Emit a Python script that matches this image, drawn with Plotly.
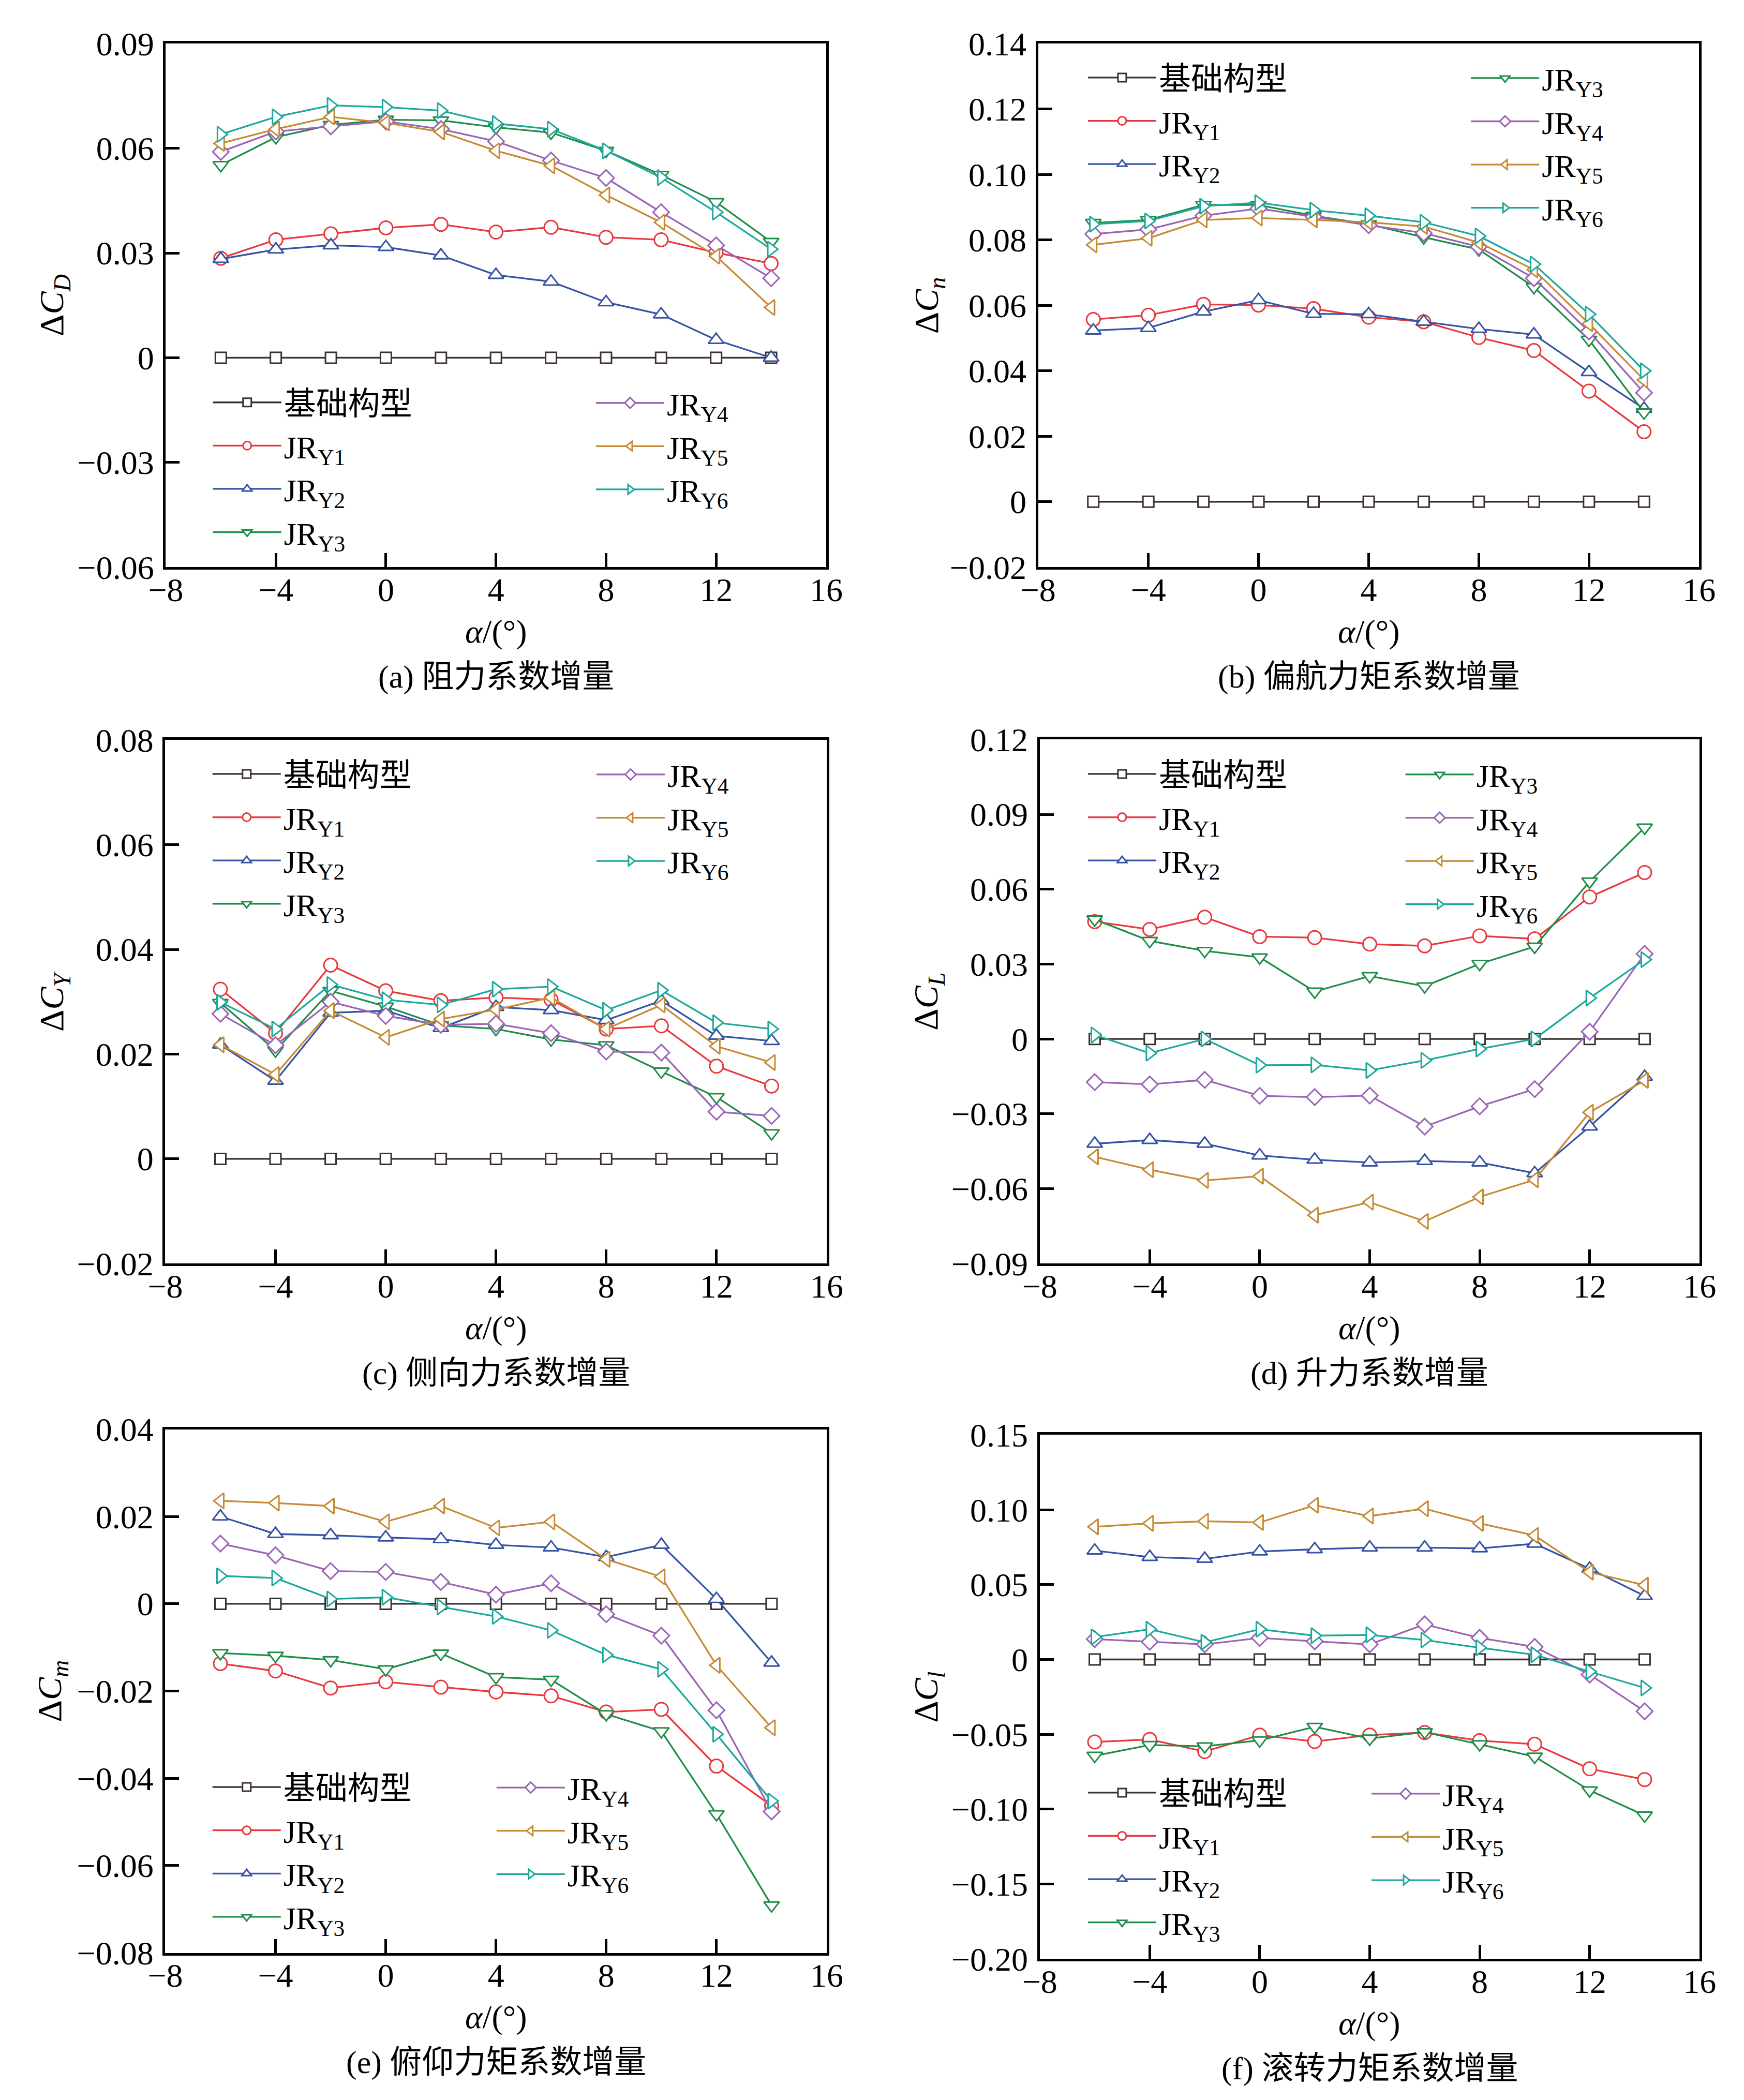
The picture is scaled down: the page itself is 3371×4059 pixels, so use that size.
import plotly.graph_objects as go

# %% data (alpha in degrees)
alpha = [-6, -4, -2, 0, 2, 4, 6, 8, 10, 12, 14]
base_zero = [0, 0, 0, 0, 0, 0, 0, 0, 0, 0, 0]

series_names = ["基础构型", "JR<sub>Y1</sub>", "JR<sub>Y2</sub>", "JR<sub>Y3</sub>",
                "JR<sub>Y4</sub>", "JR<sub>Y5</sub>", "JR<sub>Y6</sub>"]

# (a) drag coefficient increment
cd_y1 = [0.0285, 0.0338, 0.0355, 0.0372, 0.0382, 0.0360, 0.0374, 0.0345, 0.0338, 0.0301, 0.0270]
cd_y2 = [0.0283, 0.0310, 0.0322, 0.0317, 0.0293, 0.0237, 0.0218, 0.0159, 0.0124, 0.0051, 0.0000]
cd_y3 = [0.0552, 0.0632, 0.0667, 0.0682, 0.0680, 0.0660, 0.0645, 0.0593, 0.0524, 0.0446, 0.0332]
cd_y4 = [0.0590, 0.0648, 0.0663, 0.0677, 0.0655, 0.0620, 0.0565, 0.0515, 0.0417, 0.0322, 0.0228]
cd_y5 = [0.0614, 0.0655, 0.0690, 0.0673, 0.0647, 0.0593, 0.0550, 0.0466, 0.0388, 0.0291, 0.0144]
cd_y6 = [0.0640, 0.0690, 0.0723, 0.0718, 0.0708, 0.0671, 0.0655, 0.0593, 0.0516, 0.0417, 0.0311]

# (b) yawing moment coefficient increment
cn_y1 = [0.0557, 0.0570, 0.0603, 0.0601, 0.0590, 0.0564, 0.0550, 0.0502, 0.0462, 0.0338, 0.0214]
cn_y2 = [0.0523, 0.0531, 0.0581, 0.0616, 0.0574, 0.0573, 0.0550, 0.0528, 0.0511, 0.0396, 0.0284]
cn_y3 = [0.0852, 0.0861, 0.0907, 0.0907, 0.0874, 0.0848, 0.0808, 0.0771, 0.0656, 0.0495, 0.0273]
cn_y4 = [0.0818, 0.0832, 0.0874, 0.0896, 0.0871, 0.0845, 0.0821, 0.0779, 0.0683, 0.0520, 0.0333]
cn_y5 = [0.0785, 0.0805, 0.0861, 0.0867, 0.0861, 0.0854, 0.0841, 0.0792, 0.0709, 0.0544, 0.0372]
cn_y6 = [0.0848, 0.0858, 0.0903, 0.0914, 0.0891, 0.0874, 0.0854, 0.0812, 0.0726, 0.0573, 0.0400]

# (c) side force coefficient increment
cy_y1 = [0.0324, 0.0240, 0.0370, 0.0321, 0.0302, 0.0308, 0.0304, 0.0248, 0.0254, 0.0177, 0.0139]
cy_y2 = [0.0218, 0.0149, 0.0279, 0.0283, 0.0250, 0.0290, 0.0284, 0.0265, 0.0302, 0.0235, 0.0225]
cy_y3 = [0.0298, 0.0207, 0.0321, 0.0291, 0.0255, 0.0248, 0.0228, 0.0217, 0.0167, 0.0118, 0.0049]
cy_y4 = [0.0277, 0.0217, 0.0300, 0.0273, 0.0256, 0.0258, 0.0240, 0.0205, 0.0203, 0.0090, 0.0082]
cy_y5 = [0.0218, 0.0161, 0.0283, 0.0232, 0.0267, 0.0285, 0.0308, 0.0248, 0.0294, 0.0215, 0.0184]
cy_y6 = [0.0299, 0.0248, 0.0333, 0.0304, 0.0294, 0.0324, 0.0329, 0.0284, 0.0322, 0.0260, 0.0248]

# (d) lift coefficient increment
cl_y1 = [0.0470, 0.0439, 0.0488, 0.0410, 0.0406, 0.0380, 0.0373, 0.0413, 0.0401, 0.0569, 0.0667]
cl_y2 = [-0.0420, -0.0405, -0.0420, -0.0467, -0.0484, -0.0495, -0.0489, -0.0495, -0.0538, -0.0351, -0.0152]
cl_y3 = [0.0479, 0.0393, 0.0353, 0.0327, 0.0190, 0.0252, 0.0211, 0.0301, 0.0370, 0.0631, 0.0847]
cl_y4 = [-0.0173, -0.0182, -0.0164, -0.0228, -0.0233, -0.0227, -0.0351, -0.0270, -0.0201, 0.0029, 0.0341]
cl_y5 = [-0.0472, -0.0524, -0.0567, -0.0550, -0.0706, -0.0654, -0.0731, -0.0633, -0.0564, -0.0294, -0.0166]
cl_y6 = [0.0016, -0.0057, 0.0000, -0.0105, -0.0104, -0.0126, -0.0086, -0.0040, 0.0000, 0.0164, 0.0318]

# (e) pitching moment coefficient increment
cm_y1 = [-0.0137, -0.0154, -0.0193, -0.0179, -0.0191, -0.0202, -0.0211, -0.0248, -0.0242, -0.0372, -0.0463]
cm_y2 = [0.0200, 0.0160, 0.0157, 0.0152, 0.0148, 0.0135, 0.0129, 0.0107, 0.0135, 0.0011, -0.0135]
cm_y3 = [-0.0113, -0.0119, -0.0129, -0.0150, -0.0114, -0.0168, -0.0174, -0.0253, -0.0292, -0.0482, -0.0691]
cm_y4 = [0.0138, 0.0111, 0.0075, 0.0073, 0.0050, 0.0021, 0.0047, -0.0024, -0.0073, -0.0244, -0.0476]
cm_y5 = [0.0236, 0.0231, 0.0224, 0.0188, 0.0224, 0.0174, 0.0188, 0.0102, 0.0062, -0.0141, -0.0284]
cm_y6 = [0.0064, 0.0059, 0.0011, 0.0015, -0.0007, -0.0029, -0.0061, -0.0117, -0.0150, -0.0299, -0.0452]

# (f) rolling moment coefficient increment
cr_y1 = [-0.0551, -0.0534, -0.0615, -0.0505, -0.0548, -0.0505, -0.0488, -0.0542, -0.0566, -0.0730, -0.0802]
cr_y2 = [0.0727, 0.0684, 0.0672, 0.0721, 0.0736, 0.0747, 0.0747, 0.0742, 0.0773, 0.0606, 0.0424]
cr_y3 = [-0.0643, -0.0571, -0.0580, -0.0540, -0.0450, -0.0528, -0.0485, -0.0566, -0.0649, -0.0874, -0.1042]
cr_y4 = [0.0136, 0.0118, 0.0101, 0.0144, 0.0121, 0.0101, 0.0234, 0.0144, 0.0084, -0.0101, -0.0346]
cr_y5 = [0.0886, 0.0909, 0.0923, 0.0915, 0.1030, 0.0958, 0.1007, 0.0909, 0.0828, 0.0583, 0.0496]
cr_y6 = [0.0150, 0.0202, 0.0115, 0.0202, 0.0159, 0.0164, 0.0130, 0.0078, 0.0032, -0.0081, -0.0190]

# tick values / labels
x_tickvals = [-8, -4, 0, 4, 8, 12, 16]
x_ticktext = ["−8", "−4", "0", "4", "8", "12", "16"]
cd_tickvals = [-0.06, -0.03, 0, 0.03, 0.06, 0.09]
cd_ticktext = ["−0.06", "−0.03", "0", "0.03", "0.06", "0.09"]
cn_tickvals = [-0.02, 0, 0.02, 0.04, 0.06, 0.08, 0.10, 0.12, 0.14]
cn_ticktext = ["−0.02", "0", "0.02", "0.04", "0.06", "0.08", "0.10", "0.12", "0.14"]
cy_tickvals = [-0.02, 0, 0.02, 0.04, 0.06, 0.08]
cy_ticktext = ["−0.02", "0", "0.02", "0.04", "0.06", "0.08"]
cl_tickvals = [-0.09, -0.06, -0.03, 0, 0.03, 0.06, 0.09, 0.12]
cl_ticktext = ["−0.09", "−0.06", "−0.03", "0", "0.03", "0.06", "0.09", "0.12"]
cm_tickvals = [-0.08, -0.06, -0.04, -0.02, 0, 0.02, 0.04]
cm_ticktext = ["−0.08", "−0.06", "−0.04", "−0.02", "0", "0.02", "0.04"]
cr_tickvals = [-0.20, -0.15, -0.10, -0.05, 0, 0.05, 0.10, 0.15]
cr_ticktext = ["−0.20", "−0.15", "−0.10", "−0.05", "0", "0.05", "0.10", "0.15"]

# %% styling
W, H = 3371, 4059
FONT = "Liberation Serif, Times New Roman, Noto Sans CJK SC, serif"
FS = 62
TICK_FS = 64

colors = ["#3b302c", "#e8383d", "#3453a3", "#1f8d47", "#9b63b5", "#c58a33", "#1ca89c"]
symbols = ["square", "circle", "triangle-up", "triangle-down", "diamond", "triangle-left", "triangle-right"]
msizes = [21, 26, 26, 26, 24, 26, 26]

panels = [
    dict(series=[base_zero, cd_y1, cd_y2, cd_y3, cd_y4, cd_y5, cd_y6],
         yrange=[-0.06, 0.09], tv=cd_tickvals, tt=cd_ticktext,
         ytitle="Δ<i>C</i><sub><i>D</i></sub>", caption="(a) 阻力系数增量",
         px=(284, 1586), py=(42, 1072), ncol1=4,
         leg1=(377, 747), leg2=(1132, 748), ytx=64),
    dict(series=[base_zero, cn_y1, cn_y2, cn_y3, cn_y4, cn_y5, cn_y6],
         yrange=[-0.02, 0.14], tv=cn_tickvals, tt=cn_ticktext,
         ytitle="Δ<i>C</i><sub><i>n</i></sub>", caption="(b) 偏航力矩系数增量",
         px=(2004, 3307), py=(42, 1072), ncol1=3,
         leg1=(2102, 108), leg2=(2857, 109), ytx=1788),
    dict(series=[base_zero, cy_y1, cy_y2, cy_y3, cy_y4, cy_y5, cy_y6],
         yrange=[-0.02, 0.08], tv=cy_tickvals, tt=cy_ticktext,
         ytitle="Δ<i>C</i><sub><i>Y</i></sub>", caption="(c) 侧向力系数增量",
         px=(283, 1587), py=(1412, 2442), ncol1=4,
         leg1=(376, 1478), leg2=(1133, 1479), ytx=64),
    dict(series=[base_zero, cl_y1, cl_y2, cl_y3, cl_y4, cl_y5, cl_y6],
         yrange=[-0.09, 0.12], tv=cl_tickvals, tt=cl_ticktext,
         ytitle="Δ<i>C</i><sub><i>L</i></sub>", caption="(d) 升力系数增量",
         px=(2007, 3308), py=(1411, 2442), ncol1=3,
         leg1=(2102, 1478), leg2=(2728, 1479), ytx=1788),
    dict(series=[base_zero, cm_y1, cm_y2, cm_y3, cm_y4, cm_y5, cm_y6],
         yrange=[-0.08, 0.04], tv=cm_tickvals, tt=cm_ticktext,
         ytitle="Δ<i>C</i><sub><i>m</i></sub>", caption="(e) 俯仰力矩系数增量",
         px=(283, 1587), py=(2768, 3798), ncol1=4,
         leg1=(376, 3471), leg2=(936, 3472), ytx=60),
    dict(series=[base_zero, cr_y1, cr_y2, cr_y3, cr_y4, cr_y5, cr_y6],
         yrange=[-0.20, 0.15], tv=cr_tickvals, tt=cr_ticktext,
         ytitle="Δ<i>C</i><sub><i>l</i></sub>", caption="(f) 滚转力矩系数增量",
         px=(2007, 3308), py=(2779, 3810), ncol1=4,
         leg1=(2102, 3482), leg2=(2661, 3484), ytx=1788),
]

ITEM_H = FS * 1.3 + 3

fig = go.Figure()
layout = dict(
    width=W, height=H,
    margin=dict(l=0, r=0, t=0, b=0),
    paper_bgcolor="white", plot_bgcolor="white",
    font=dict(family=FONT, size=FS, color="black"),
    annotations=[],
)

for i, p in enumerate(panels):
    k = i + 1
    xa = "x" if k == 1 else f"x{k}"
    ya = "y" if k == 1 else f"y{k}"
    leg_a = "legend" if k == 1 else f"legend{2 * i + 1}"
    leg_b = f"legend{2 * i + 2}"

    for j, ys in enumerate(p["series"]):
        fig.add_trace(go.Scatter(
            x=alpha, y=ys, xaxis=xa, yaxis=ya,
            mode="lines+markers", name=series_names[j],
            line=dict(color=colors[j], width=3.3),
            marker=dict(symbol=symbols[j], size=msizes[j], color="white",
                        line=dict(color=colors[j], width=3.0)),
            legend=leg_a if j < p["ncol1"] else leg_b,
            hoverinfo="skip",
        ))

    x0, x1 = p["px"][0] / W, p["px"][1] / W
    y0, y1 = 1 - p["py"][1] / H, 1 - p["py"][0] / H
    axis_common = dict(
        showgrid=False, zeroline=False, showline=True, linecolor="black",
        linewidth=5, mirror=True, ticks="inside", ticklen=27, tickwidth=5,
        tickcolor="black", tickfont=dict(family=FONT, size=TICK_FS, color="black"),
    )
    layout["xaxis" if k == 1 else f"xaxis{k}"] = dict(
        axis_common, domain=[x0, x1], anchor=ya, range=[-8, 16],
        tickmode="array", tickvals=x_tickvals, ticktext=x_ticktext,
        ticklabelstandoff=-16,
    )
    layout["yaxis" if k == 1 else f"yaxis{k}"] = dict(
        axis_common, domain=[y0, y1], anchor=xa, range=p["yrange"],
        tickmode="array", tickvals=p["tv"], ticktext=p["tt"],
        ticklabelstandoff=5,
    )

    for name, (lx, ly) in ((leg_a, p["leg1"]), (leg_b, p["leg2"])):
        layout[name] = dict(
            x=(lx - 5) / W, y=1 - (ly - ITEM_H / 2 - 5) / H,
            xanchor="left", yanchor="top", xref="paper", yref="paper",
            bgcolor="rgba(0,0,0,0)", borderwidth=0,
            font=dict(family=FONT, size=FS, color="black"),
            itemwidth=132, tracegroupgap=0, traceorder="normal",
        )

    xc = (x0 + x1) / 2
    layout["annotations"] += [
        dict(text=p["ytitle"], xref="paper", yref="paper", x=p["ytx"] / W,
             y=(y0 + y1) / 2, xanchor="center", yanchor="middle",
             textangle=-90, showarrow=False, font=dict(family=FONT, size=66)),
        dict(text="<i>α</i>/(°)", xref="paper", yref="paper", x=xc,
             y=y0 - 126 / H, xanchor="center", yanchor="middle",
             showarrow=False, font=dict(family=FONT, size=64)),
        dict(text=p["caption"], xref="paper", yref="paper", x=xc,
             y=y0 - 216 / H, xanchor="center", yanchor="middle",
             showarrow=False, font=dict(family=FONT, size=FS)),
    ]

fig.update_layout(**layout)
fig.write_html("out.html")
